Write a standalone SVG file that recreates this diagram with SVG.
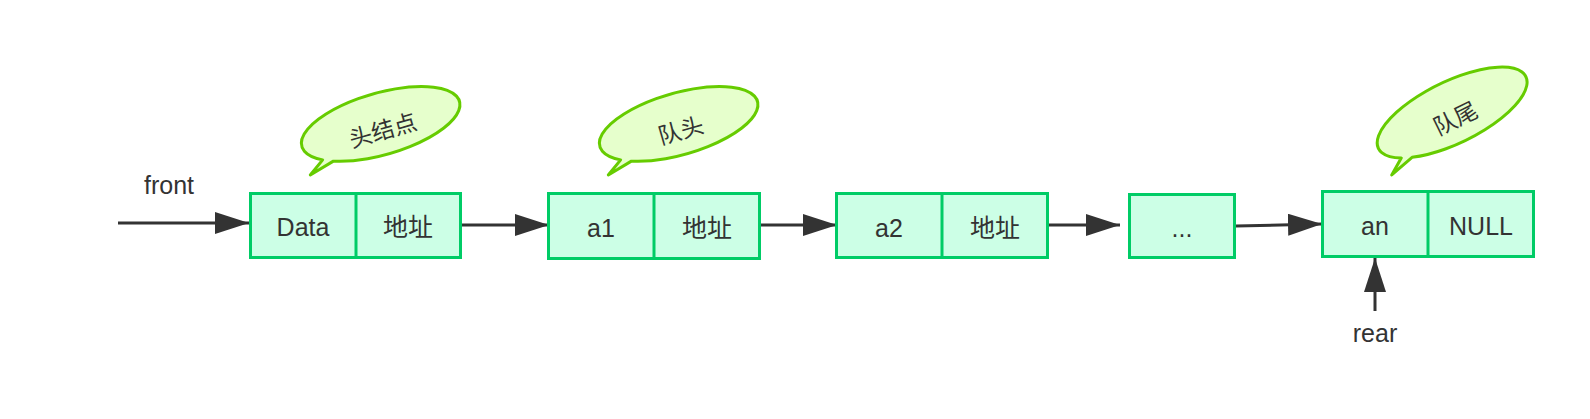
<svg xmlns="http://www.w3.org/2000/svg" width="1590" height="419" viewBox="0 0 1590 419">
<defs>
<style>
.box{fill:#ccffe6;stroke:#00cc66;stroke-width:3}
.div{stroke:#00cc66;stroke-width:3}
.bub{fill:#e6ffcc;stroke:#66cc00;stroke-width:3;stroke-linejoin:round}
.t{font-family:"Liberation Sans","Noto Sans CJK SC",sans-serif;font-size:25px;fill:#333333;text-anchor:middle}
.bt{font-family:"Noto Sans CJK SC","Liberation Sans",sans-serif;font-size:23px;fill:#333333;text-anchor:middle}
.ln{stroke:#333333;stroke-width:3;fill:none}
</style>
<marker id="ah" markerUnits="userSpaceOnUse" markerWidth="34" markerHeight="22" viewBox="0 0 34 22" refX="34" refY="11" orient="auto">
<path d="M0,0 L34,11 L0,22 Z" fill="#333333"/>
</marker>
<path id="bubble" d="M -56,22.6 L -82,29.5 L -66,18.4 A 82 31 0 1 1 -56,22.6 Z"/>
</defs>
<rect width="1590" height="419" fill="#ffffff"/>

<g id="connectors">
<line class="ln" x1="118" y1="223" x2="249" y2="223" marker-end="url(#ah)"/>
<line class="ln" x1="462" y1="225" x2="549" y2="225" marker-end="url(#ah)"/>
<line class="ln" x1="761" y1="225" x2="837" y2="225" marker-end="url(#ah)"/>
<line class="ln" x1="1049" y1="225" x2="1120" y2="225" marker-end="url(#ah)"/>
<line class="ln" x1="1236" y1="226" x2="1322" y2="224" marker-end="url(#ah)"/>
<line class="ln" x1="1375" y1="311" x2="1375" y2="258" marker-end="url(#ah)"/>
</g>

<g id="label-front"><text class="t" x="169" y="194">front</text></g>
<g id="label-rear"><text class="t" x="1375" y="342">rear</text></g>

<g id="node-head">
<rect class="box" x="250.5" y="193.5" width="210" height="64"/>
<line class="div" x1="356" y1="193.5" x2="356" y2="257.5"/>
<text class="t" x="303" y="236">Data</text>
<text class="t" x="408" y="236">地址</text>
</g>

<g id="node-a1">
<rect class="box" x="548.5" y="193.5" width="211" height="65"/>
<line class="div" x1="654" y1="193.5" x2="654" y2="258.5"/>
<text class="t" x="601" y="237">a1</text>
<text class="t" x="707" y="237">地址</text>
</g>

<g id="node-a2">
<rect class="box" x="836.5" y="193.5" width="211" height="64"/>
<line class="div" x1="942" y1="193.5" x2="942" y2="257.5"/>
<text class="t" x="889" y="237">a2</text>
<text class="t" x="995" y="237">地址</text>
</g>

<g id="node-dots">
<rect class="box" x="1129.5" y="194.5" width="105" height="63"/>
<text class="t" x="1182" y="237">...</text>
</g>

<g id="node-an">
<rect class="box" x="1322.5" y="191.5" width="211" height="65"/>
<line class="div" x1="1428" y1="191.5" x2="1428" y2="256.5"/>
<text class="t" x="1375" y="235">an</text>
<text class="t" x="1481" y="235">NULL</text>
</g>

<g id="bubble-head" transform="translate(381,124) rotate(-16)">
<use href="#bubble" class="bub"/>
<text class="bt" x="0" y="15">头结点</text>
</g>

<g id="bubble-front" transform="translate(679,124) rotate(-16)">
<use href="#bubble" class="bub"/>
<text class="bt" x="0" y="15">队头</text>
</g>

<g id="bubble-rear" transform="translate(1452.5,112.5) rotate(-26)">
<use href="#bubble" class="bub"/>
<text class="bt" x="0" y="15">队尾</text>
</g>
</svg>
